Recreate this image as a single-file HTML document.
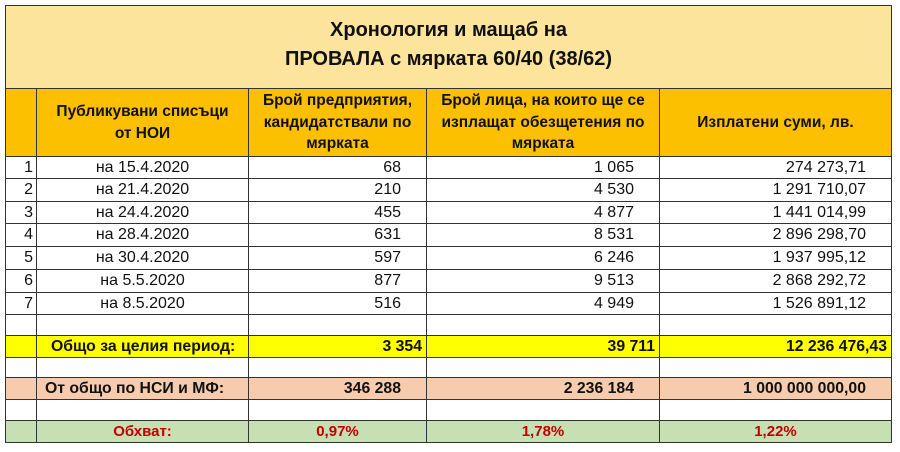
<!DOCTYPE html>
<html><head><meta charset="utf-8"><style>
*{margin:0;padding:0;box-sizing:border-box}
body{width:900px;height:452px;background:#fff;position:relative;overflow:hidden;font-family:"Liberation Sans","DejaVu Sans",sans-serif;color:#111}
table{position:absolute;left:5px;top:5px;border-collapse:collapse;table-layout:fixed;width:886px}
td{border:1.5px solid #333;font-size:16px;white-space:nowrap;overflow:hidden;padding:0}
.t{background:#fde49c;text-align:center;font-weight:bold;font-size:20px;line-height:29px;padding-top:10px;vertical-align:top}
.h td{background:#fcc000;font-weight:bold;text-align:center;line-height:21.5px;font-size:15.5px}
.n{text-align:right;padding-right:25px}
.c{text-align:center}
.idx{text-align:right;padding-right:3px}
.y td{background:#ffff00;font-weight:bold;font-size:15.8px}
.s td{background:#f8cbad;font-weight:bold;font-size:15.8px}
.g td{background:#c6e0b4;font-weight:bold;font-size:15px;color:#c00000;text-align:center}
</style></head><body>
<table>
<colgroup><col style="width:31px"><col style="width:212px"><col style="width:178px"><col style="width:233px"><col style="width:232px"></colgroup>
<tr style="height:83px"><td class="t" colspan="5">Хронология и мащаб на<br>ПРОВАЛА с мярката 60/40 (38/62)</td></tr>
<tr class="h" style="height:68px"><td></td><td>Публикувани списъци<br>от НОИ</td><td>Брой предприятия,<br>кандидатствали по<br>мярката</td><td>Брой лица, на които ще се<br>изплащат обезщетения по<br>мярката</td><td>Изплатени суми, лв.</td></tr>
<tr style="height:22px"><td class="idx">1</td><td class="c">на 15.4.2020</td><td class="n">68</td><td class="n">1 065</td><td class="n">274 273,71</td></tr>
<tr style="height:23px"><td class="idx">2</td><td class="c">на 21.4.2020</td><td class="n">210</td><td class="n">4 530</td><td class="n">1 291 710,07</td></tr>
<tr style="height:22px"><td class="idx">3</td><td class="c">на 24.4.2020</td><td class="n">455</td><td class="n">4 877</td><td class="n">1 441 014,99</td></tr>
<tr style="height:23px"><td class="idx">4</td><td class="c">на 28.4.2020</td><td class="n">631</td><td class="n">8 531</td><td class="n">2 896 298,70</td></tr>
<tr style="height:23px"><td class="idx">5</td><td class="c">на 30.4.2020</td><td class="n">597</td><td class="n">6 246</td><td class="n">1 937 995,12</td></tr>
<tr style="height:23px"><td class="idx">6</td><td class="c">на 5.5.2020</td><td class="n">877</td><td class="n">9 513</td><td class="n">2 868 292,72</td></tr>
<tr style="height:22px"><td class="idx">7</td><td class="c">на 8.5.2020</td><td class="n">516</td><td class="n">4 949</td><td class="n">1 526 891,12</td></tr>
<tr style="height:21px"><td></td><td></td><td></td><td></td><td></td></tr>
<tr class="y" style="height:22px"><td></td><td style="padding-left:14px">Общо за целия период:</td><td class="n" style="padding-right:4px">3 354</td><td class="n" style="padding-right:4px">39 711</td><td class="n" style="padding-right:4px">12 236 476,43</td></tr>
<tr style="height:20px"><td></td><td></td><td></td><td></td><td></td></tr>
<tr class="s" style="height:22px"><td></td><td style="padding-left:8px">От общо по НСИ и МФ:</td><td class="n">346 288</td><td class="n">2 236 184</td><td class="n">1 000 000 000,00</td></tr>
<tr style="height:21px"><td></td><td></td><td></td><td></td><td></td></tr>
<tr class="g" style="height:22px"><td></td><td>Обхват:</td><td>0,97%</td><td>1,78%</td><td>1,22%</td></tr>
</table>
</body></html>
